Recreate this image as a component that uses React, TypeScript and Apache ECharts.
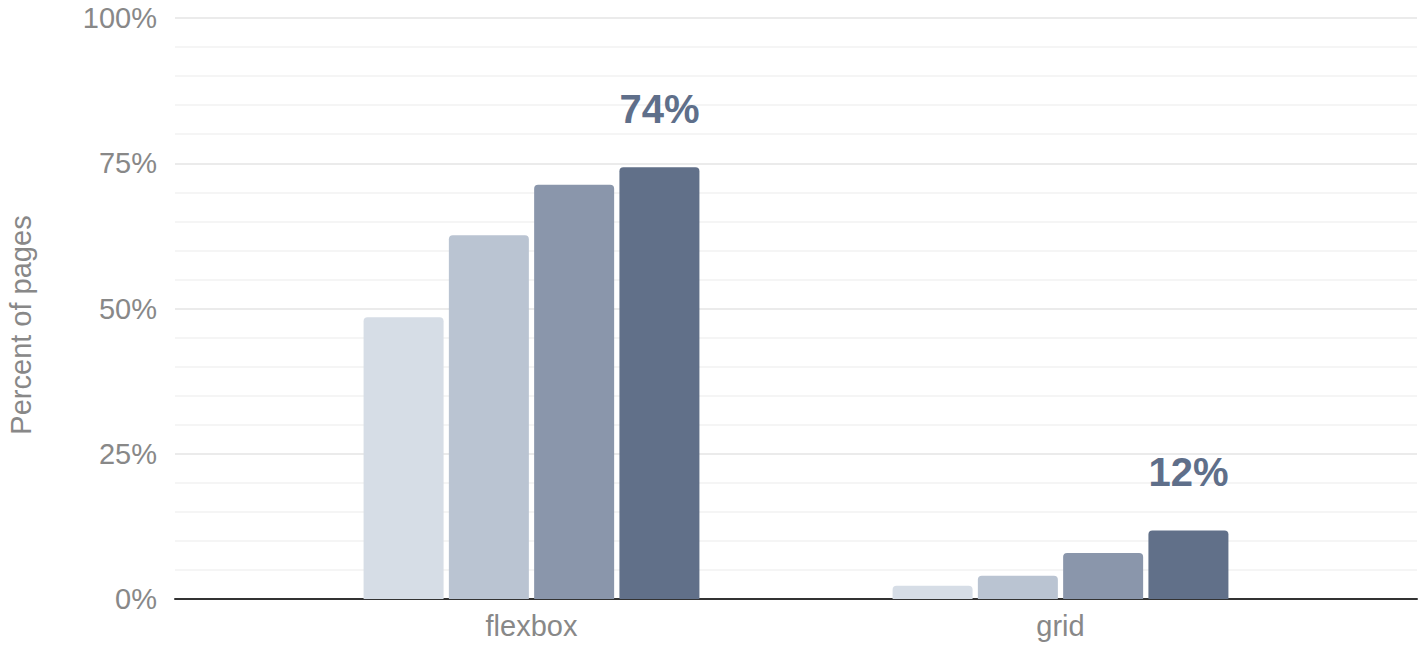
import React, { useEffect, useRef } from "react";
import * as echarts from "echarts";

const categories = ["flexbox", "grid"];
const seriesNames = ["2019", "2020", "2021", "2022"];
const seriesValues = [
  [48.5, 2.3],
  [62.6, 4.0],
  [71.3, 7.9],
  [74.3, 11.8],
];
const seriesColors = ["#d6dde6", "#bac4d2", "#8a96ab", "#617089"];
const yTicks = [0, 25, 50, 75, 100];
const yTitle = "Percent of pages";

export default function App() {
  const ref = useRef<HTMLDivElement>(null);

  useEffect(() => {
    if (!ref.current) return;
    const chart = echarts.init(ref.current, null, { renderer: "svg" });
    const font = "'Liberation Sans', Arial, Helvetica, sans-serif";
    const gridTop = 18;
    const gridBottom = 48;
    const lineColors = ["#ebebeb", "#f5f5f5", "#f5f5f5", "#f5f5f5", "#f5f5f5"];

    chart.setOption({
      animation: false,
      backgroundColor: "#ffffff",
      textStyle: { fontFamily: font },
      grid: [
        { left: 175, right: 2, top: gridTop, bottom: gridBottom },
        { left: 267, right: 94, top: gridTop, bottom: gridBottom },
      ],
      graphic: [
        {
          type: "text",
          x: 21,
          y: 325,
          rotation: Math.PI / 2,
          style: {
            text: yTitle,
            fill: "#888888",
            fontSize: 29,
            fontFamily: font,
            align: "center",
            verticalAlign: "middle",
          },
        },
      ],
      xAxis: [
        {
          gridIndex: 0,
          type: "value",
          min: 0,
          max: 1,
          axisLine: { show: true, lineStyle: { color: "#333333", width: 2 } },
          axisTick: { show: false },
          axisLabel: { show: false },
          splitLine: { show: false },
        },
        {
          gridIndex: 1,
          type: "category",
          data: categories,
          axisLine: { show: false },
          axisTick: { show: false },
          axisLabel: {
            color: "#888888",
            fontSize: 29,
            fontFamily: font,
            margin: 12,
          },
          splitLine: { show: false },
        },
      ],
      yAxis: [
        {
          gridIndex: 0,
          type: "value",
          min: 0,
          max: 100,
          interval: 5,
          axisLine: { show: false },
          axisTick: { show: false },
          axisLabel: {
            color: "#888888",
            fontSize: 29,
            fontFamily: font,
            margin: 18,
            formatter: (v: number) => (yTicks.includes(v) ? v + "%" : ""),
          },
          splitLine: { show: true, lineStyle: { color: lineColors, width: 2 } },
        },
        {
          gridIndex: 1,
          type: "value",
          min: 0,
          max: 100,
          show: false,
        },
      ],
      series: seriesNames.map((name, i) => ({
        name,
        type: "bar",
        xAxisIndex: 1,
        yAxisIndex: 1,
        data: seriesValues[i],
        barWidth: 80,
        barGap: "6.6%",
        itemStyle: { color: seriesColors[i], borderRadius: [4, 4, 0, 0] },
        label:
          i === seriesNames.length - 1
            ? {
                show: true,
                position: "top",
                distance: 38,
                fontSize: 40,
                fontWeight: "bold",
                fontFamily: font,
                color: "#5f6f8a",
                formatter: (p: any) => Math.round(p.value) + "%",
              }
            : { show: false },
      })),
    });

    return () => chart.dispose();
  }, []);

  return (
    <div
      ref={ref}
      style={{ position: "absolute", left: 0, top: 0, width: 1419, height: 647 }}
    />
  );
}
